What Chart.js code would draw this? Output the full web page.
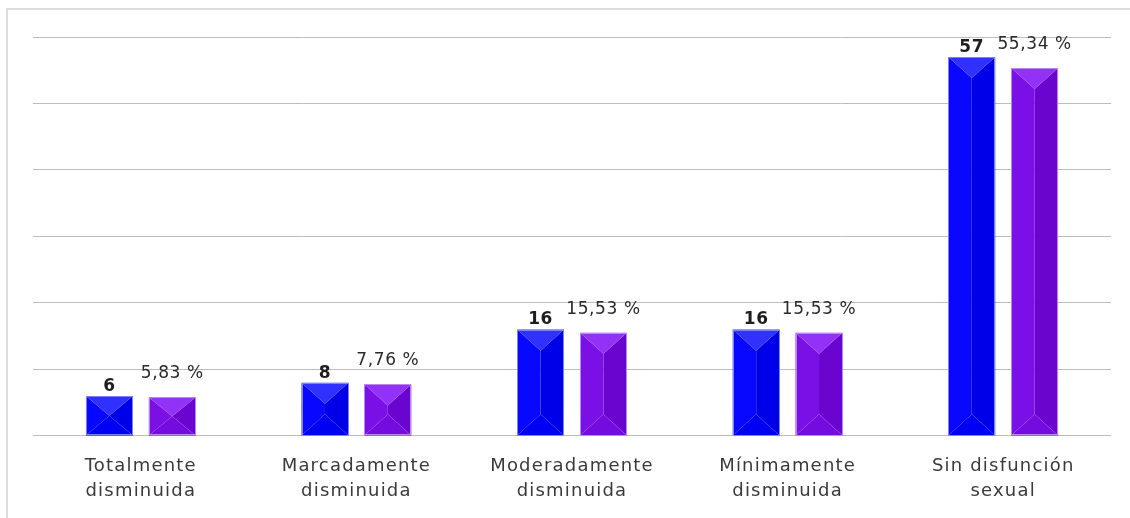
<!DOCTYPE html>
<html>
<head>
<meta charset="utf-8">
<script src="https://cdn.jsdelivr.net/npm/chart.js@4"></script>
<style>
  html, body { margin: 0; padding: 0; background: #fff; overflow: hidden; }
  #wrap { position: relative; width: 1130px; height: 518px; }
  #frame {
    position: absolute; left: 6px; top: 8px; width: 1140px; height: 530px;
    border-left: 2px solid #dcdcdc; border-top: 2px solid #dcdcdc;
  }
  #chart { position: absolute; left: 0; top: 0; }
</style>
</head>
<body>
<div id="wrap">
  <div id="frame"></div>
  <canvas id="chart" width="1130" height="518"></canvas>
</div>
<script>
// datos
const categories = [
    ["Totalmente", "disminuida"],
    ["Marcadamente", "disminuida"],
    ["Moderadamente", "disminuida"],
    ["Mínimamente", "disminuida"],
    ["Sin disfunción", "sexual"]
];
const counts = [6, 8, 16, 16, 57];
const percents = [5.83, 7.76, 15.53, 15.53, 55.34];
const yTicks = [0, 10, 20, 30, 40, 50, 60];

// colores de las caras del bisel (izq, der, arriba, abajo, borde)
const facets = [
    { left: "#0808ff", right: "#0000e8", top: "#3030ff", bottom: "#0000f2", edge: "#8080ff" },
    { left: "#7a10e6", right: "#6a05d0", top: "#9232f6", bottom: "#740ce0", edge: "#b888f0" }
];

const spacingPlugin = {
    id: "spacing",
    beforeDraw(chart) {
        chart.ctx.letterSpacing = "1.2px";
    }
};

function poly(ctx, pts, color) {
    ctx.beginPath();
    ctx.moveTo(pts[0][0], pts[0][1]);
    for (let i = 1; i < pts.length; i++) ctx.lineTo(pts[i][0], pts[i][1]);
    ctx.closePath();
    ctx.fillStyle = color;
    ctx.fill();
}

// barras con efecto piramide
const bevelPlugin = {
    id: "bevel",
    afterDatasetsDraw(chart) {
        const ctx = chart.ctx;
        chart.data.datasets.forEach((ds, i) => {
            const f = facets[i];
            chart.getDatasetMeta(i).data.forEach(bar => {
                const x0 = bar.x - bar.width / 2, x1 = bar.x + bar.width / 2;
                const y0 = bar.y, y1 = bar.base, cx = bar.x;
                const d = Math.min(bar.width * 0.45, (y1 - y0) / 2);
                ctx.save();
                poly(ctx, [[x0, y0], [cx, y0 + d], [cx, y1 - d], [x0, y1]], f.left);
                poly(ctx, [[x1, y0], [cx, y0 + d], [cx, y1 - d], [x1, y1]], f.right);
                poly(ctx, [[x0, y0], [x1, y0], [cx, y0 + d]], f.top);
                poly(ctx, [[x0, y1], [x1, y1], [cx, y1 - d]], f.bottom);
                ctx.strokeStyle = f.edge;
                ctx.lineWidth = 1;
                ctx.strokeRect(Math.round(x0) + 0.5, Math.round(y0) + 0.5,
                    Math.round(x1 - x0) - 1, Math.round(y1 - y0) - 1);
                ctx.restore();
            });
        });
    }
};

// etiquetas encima de las barras
const labelPlugin = {
    id: "labels",
    afterDatasetsDraw(chart) {
        const ctx = chart.ctx;
        ctx.save();
        ctx.letterSpacing = "0.6px";
        ctx.textAlign = "center";
        ctx.textBaseline = "bottom";
        chart.getDatasetMeta(0).data.forEach((bar, j) => {
            ctx.font = "bold 17px 'DejaVu Sans'";
            ctx.fillStyle = "#1e1e1e";
            ctx.fillText(String(counts[j]), bar.x, bar.y - 1);
        });
        chart.getDatasetMeta(1).data.forEach((bar, j) => {
            ctx.font = "17px 'DejaVu Sans'";
            ctx.fillStyle = "#2a2a2a";
            ctx.fillText(percents[j].toFixed(2).replace(".", ",") + " %", bar.x, bar.y - 15);
        });
        ctx.restore();
    }
};

const ctx = document.getElementById("chart").getContext("2d");
new Chart(ctx, {
    type: "bar",
    data: {
        labels: categories,
        datasets: [
            { label: "n", data: counts, backgroundColor: "rgba(0,0,0,0)",
              categoryPercentage: 0.583, barPercentage: 0.746 },
            { label: "%", data: percents, backgroundColor: "rgba(0,0,0,0)",
              categoryPercentage: 0.583, barPercentage: 0.746 }
        ]
    },
    options: {
        responsive: false,
        animation: false,
        layout: { padding: { left: 33, right: 19, top: 37, bottom: 4 } },
        plugins: { legend: { display: false }, tooltip: { enabled: false } },
        scales: {
            x: {
                grid: { display: false },
                border: { display: false },
                ticks: {
                    color: "#3a3a3a",
                    padding: 10,
                    maxRotation: 0,
                    font: { family: "'DejaVu Sans'", size: 18, lineHeight: 1.39 }
                }
            },
            y: {
                min: yTicks[0],
                max: yTicks[yTicks.length - 1],
                afterBuildTicks(scale) { scale.ticks = yTicks.map(v => ({ value: v })); },
                ticks: { display: false },
                border: { display: false },
                grid: { color: "#bdbdbd", lineWidth: 1, drawTicks: false }
            }
        }
    },
    plugins: [spacingPlugin, bevelPlugin, labelPlugin]
});
</script>
</body>
</html>
